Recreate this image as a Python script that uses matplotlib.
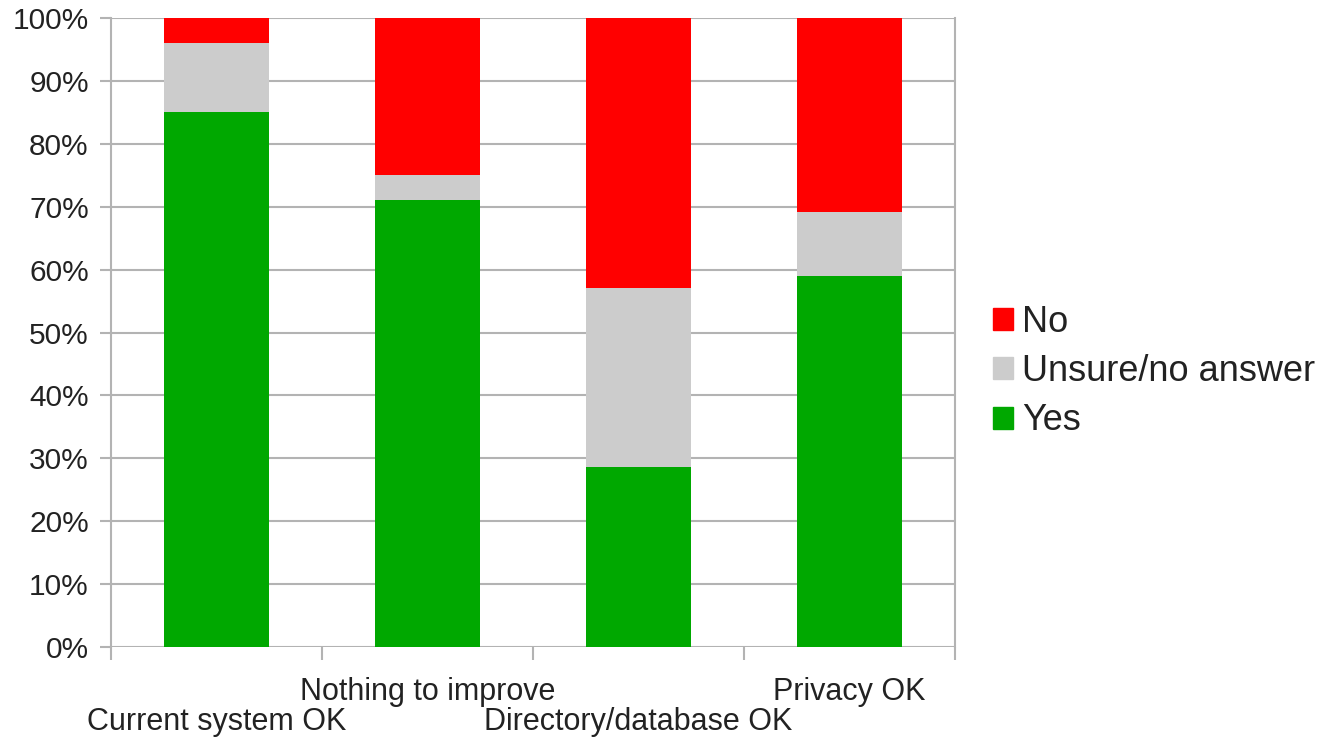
import matplotlib
matplotlib.use("Agg")
import matplotlib.pyplot as plt
from matplotlib.patches import Patch
import numpy as np

plt.rcParams['font.family'] = ['Liberation Sans', 'DejaVu Sans']

categories = ["Current system OK", "Nothing to improve", "Directory/database OK", "Privacy OK"]
yes_pct = [85.0, 71.0, 28.6, 59.0]
unsure_pct = [11.0, 4.0, 28.5, 10.2]
no_pct = [4.0, 25.0, 42.9, 30.8]
y_ticks = [0, 10, 20, 30, 40, 50, 60, 70, 80, 90, 100]

c_yes = "#00a800"
c_unsure = "#cccccc"
c_no = "#ff0000"
grid_c = "#b3b3b3"
text_c = "#222222"

fig = plt.figure(figsize=(13.24, 7.37), dpi=100)
ax = fig.add_axes([111 / 1324, 1 - 647 / 737, (955 - 111) / 1324, (647 - 18) / 737])

x = np.arange(len(categories)) + 0.5
yes = np.array(yes_pct)
unsure = np.array(unsure_pct)
no = np.array(no_pct)

ax.bar(x, yes, width=0.5, color=c_yes, zorder=3)
ax.bar(x, unsure, width=0.5, bottom=yes, color=c_unsure, zorder=3)
ax.bar(x, no, width=0.5, bottom=yes + unsure, color=c_no, zorder=3)

ax.set_xlim(0, len(categories))
ax.set_ylim(0, 100)

ax.set_yticks(y_ticks)
ax.set_yticklabels([f"{v}%" for v in y_ticks])
ax.yaxis.grid(True, color=grid_c, linewidth=1.5, zorder=0)
ax.tick_params(axis='y', length=8, width=1.5, color=grid_c, pad=8,
               labelsize=21.5, labelcolor=text_c)

ax.set_xticks(np.arange(len(categories) + 1))
ax.set_xticklabels([])
ax.tick_params(axis='x', which='major', length=9.5, width=1.5, color=grid_c)
ax.set_xticks(x, minor=True)
ax.set_xticklabels(categories, minor=True)
ax.tick_params(axis='x', which='minor', length=0, labelsize=22, labelcolor=text_c)
for i, t in enumerate(ax.xaxis.get_minor_ticks()):
    t.set_pad(43 if i % 2 == 0 else 21.5)

for side in ['top', 'bottom']:
    ax.spines[side].set_visible(False)
for side in ['left', 'right']:
    ax.spines[side].set_color(grid_c)
    ax.spines[side].set_linewidth(1.5)

handles = [Patch(color=c_no), Patch(color=c_unsure), Patch(color=c_yes)]
labels = ["No", "Unsure/no answer", "Yes"]
fig.legend(handles, labels, loc='center left',
           bbox_to_anchor=(993 / 1324, 1 - 371.5 / 737), frameon=False,
           fontsize=26, handlelength=0.55, handleheight=0.55,
           handletextpad=0.25, labelspacing=0.4, borderpad=0, borderaxespad=0,
           labelcolor=text_c)

fig.savefig("out.png", dpi=100, facecolor="white")
